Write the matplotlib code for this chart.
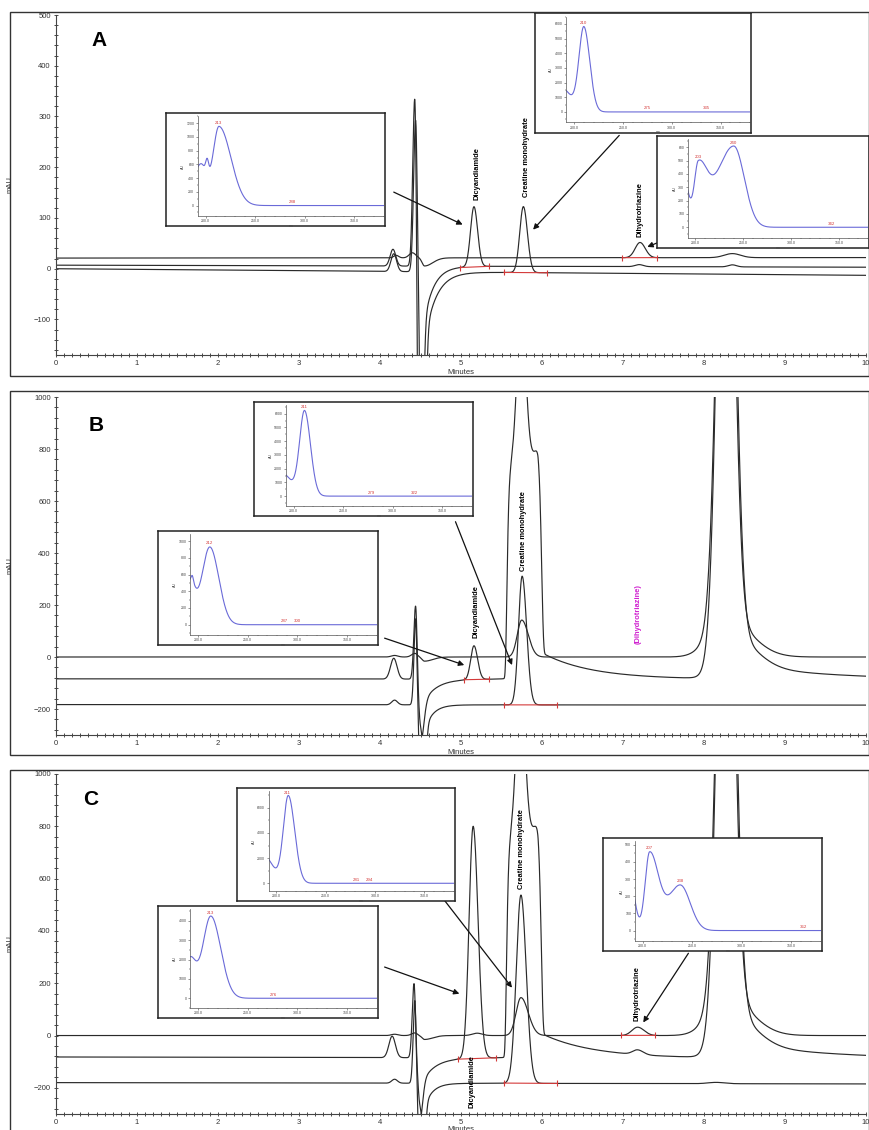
import numpy as np
import matplotlib.pyplot as plt
from matplotlib.patches import Rectangle
from matplotlib.ticker import MultipleLocator

plt.rcParams['font.family'] = ['Liberation Sans', 'DejaVu Sans']

W, H = 870, 1130

# ======================================================================
# Chromatogram data
# peak rows: (retention time min, height mAU, sigma left, sigma right, shape exponent)
# baseline: (value at 0 min, value at 10 min)
# ======================================================================
# Panel A
A_top_base = (21, 22)
A_top_peaks = [(4.20, 5, 0.03, 0.03, 2), (4.40, 10, 0.04, 0.04, 2), (4.55, -16, 0.03, 0.10, 2),
               (7.21, 30, 0.06, 0.065, 2), (8.35, 8, 0.10, 0.10, 2)]
A_mid_base = (7, 3)
A_mid_peaks = [(4.16, 33, 0.035, 0.035, 2), (4.43, 340, 0.025, 0.018, 2), (4.49, -700, 0.02, 0.03, 2),
               (4.50, -160, 0.01, 0.06, 1), (5.16, 118, 0.042, 0.045, 2), (7.20, 4, 0.05, 0.05, 2),
               (8.35, 4, 0.05, 0.05, 2)]
A_low_base = (0, -13)
A_low_peaks = [(4.17, 35, 0.035, 0.035, 2), (4.44, 300, 0.025, 0.018, 2), (4.52, -700, 0.02, 0.03, 2),
               (4.53, -160, 0.01, 0.07, 1), (5.77, 130, 0.045, 0.05, 2)]

# Panel B
B_top_base = (0, 0)
B_top_peaks = [(4.18, 6, 0.04, 0.04, 2), (4.43, 14, 0.04, 0.03, 2), (4.55, -16, 0.03, 0.10, 2),
               (5.75, 142, 0.055, 0.08, 2), (8.27, 2400, 0.10, 0.095, 2), (8.27, 150, 0.20, 0.30, 2)]
B_mid_base = (-84, -86)
B_mid_peaks = [(4.17, 80, 0.04, 0.04, 2), (4.44, 290, 0.022, 0.018, 2), (4.50, -145, 0.025, 0.04, 2),
               (4.52, -100, 0.01, 0.08, 1), (5.16, 130, 0.04, 0.045, 2), (5.755, 800, 0.18, 0.23, 12),
               (5.745, 600, 0.055, 0.055, 2), (5.95, 110, 0.05, 0.30, 1), (8.275, 2600, 0.10, 0.10, 2),
               (8.30, 120, 0.15, 0.30, 2), (8.40, 60, 0.05, 0.50, 1)]
B_low_base = (-183, -185)
B_low_peaks = [(4.18, 18, 0.035, 0.035, 2), (4.44, 335, 0.02, 0.016, 2), (4.52, -600, 0.025, 0.03, 2),
               (4.54, -110, 0.01, 0.05, 1), (5.755, 495, 0.045, 0.055, 2)]

# Panel C
C_top_base = (0, 0)
C_top_peaks = [(4.18, 5, 0.04, 0.04, 2), (4.43, 10, 0.04, 0.03, 2), (4.55, -15, 0.03, 0.10, 2),
               (5.20, 9, 0.06, 0.06, 2), (5.74, 145, 0.06, 0.09, 2), (7.18, 32, 0.07, 0.08, 2),
               (8.27, 2400, 0.10, 0.095, 2), (8.27, 150, 0.20, 0.30, 2)]
C_mid_base = (-82, -88)
C_mid_peaks = [(4.15, 82, 0.04, 0.04, 2), (4.42, 285, 0.022, 0.018, 2), (4.49, -140, 0.022, 0.035, 2),
               (4.51, -100, 0.01, 0.08, 1), (5.15, 887, 0.05, 0.06, 2), (5.75, 820, 0.18, 0.23, 12),
               (5.735, 600, 0.055, 0.055, 2), (5.95, 100, 0.05, 0.31, 1), (7.18, 18, 0.06, 0.07, 2),
               (8.275, 2600, 0.10, 0.10, 2), (8.30, 120, 0.15, 0.30, 2), (8.40, 60, 0.05, 0.50, 1)]
C_low_base = (-180, -185)
C_low_peaks = [(4.18, 15, 0.035, 0.035, 2), (4.43, 320, 0.02, 0.016, 2), (4.51, -600, 0.025, 0.03, 2),
               (4.53, -110, 0.01, 0.05, 1), (5.74, 720, 0.058, 0.065, 2), (8.15, 5, 0.10, 0.10, 2)]

# peak names (text, time, mAU, colour)
A_labels = [('Dicyandiamide', 5.20, 187, 'k'), ('Creatine monohydrate', 5.81, 221, 'k'),
            ('Dihydrotriazine', 7.21, 116, 'k')]
B_labels = [('Dicyandiamide', 5.18, 175, 'k'), ('Creatine monohydrate', 5.77, 485, 'k'),
            ('(Dihydrotriazine)', 7.19, 165, '#d020d0')]
C_labels = [('Creatine monohydrate', 5.75, 713, 'k'), ('Dihydrotriazine', 7.17, 160, 'k'),
            ('Dicyandiamide', 5.14, -175, 'k')]

# integration events (trace index, start, end)
A_integ = [(1, 4.99, 5.35), (2, 5.53, 6.06), (0, 6.99, 7.42)]
B_integ = [(1, 5.04, 5.35), (2, 5.53, 6.18)]
C_integ = [(1, 4.96, 5.43), (2, 5.53, 6.18), (0, 6.98, 7.40)]

# ======================================================================
# UV spectra in the insets: (nm, height, sigma left, sigma right, exponent)
# ======================================================================
A_dicy_bands = [(195, 600, 8, 6, 2), (201.5, 200, 1.5, 1.5, 2), (213.5, 1150, 6, 12, 2)]
A_crea_bands = [(186, 1700, 10.5, 10.5, 2), (210, 5700, 5, 6, 2)]
A_dihy_bands = [(186, 420, 6, 6, 2), (203, 420, 4, 9, 2), (240, 610, 18, 11, 2)]
B_crea_bands = [(186, 1800, 11, 11, 2), (211, 6100, 5, 6, 2)]
B_dicy_bands = [(192, 500, 6, 5, 2), (194.5, 60, 1, 1, 2), (212, 930, 8, 9, 2)]
C_crea_bands = [(186, 2300, 10, 10, 2), (212, 6900, 5, 6.5, 2)]
C_dicy_bands = [(192, 2000, 6, 6, 2), (213, 4250, 8, 10, 2)]
C_dihy_bands = [(187, 300, 5, 5, 2), (207, 450, 4.5, 9, 2), (238, 265, 12, 10, 2)]

A_dicy_marks = [(213, '213'), (288, '288')]
A_crea_marks = [(210, '210'), (275, '275'), (335, '335')]
A_dihy_marks = [(203, '203'), (240, '240'), (342, '342')]
B_crea_marks = [(211, '211'), (279, '279'), (322, '322')]
B_dicy_marks = [(212, '212'), (287, '287'), (300, '300')]
C_crea_marks = [(211, '211'), (281, '281'), (294, '294')]
C_dicy_marks = [(213, '213'), (276, '276')]
C_dihy_marks = [(207, '207'), (238, '238'), (362, '362')]

TRACE = '#2a2a2a'
RED = '#d43a3a'
BLUE = '#6a6ad8'

t = np.linspace(0, 10, 6001)
nm = np.linspace(192, 380, 800)


def band_sum(x, peaks):
    y = np.zeros_like(x)
    for c, h, wl, wr, p in peaks:
        w = np.where(x < c, wl, wr)
        y += h * np.exp(-0.5 * np.abs((x - c) / w) ** p)
    return y


def px_rect(x0, y0, x1, y1):
    return [x0 / W, 1 - y1 / H, (x1 - x0) / W, (y1 - y0) / H]


fig = plt.figure(figsize=(W / 100, H / 100), dpi=100)


def add_inset(ax, rect, bands, ylim, ystep, ytop, marks, tail, head):
    frame = fig.add_axes(px_rect(*rect))
    frame.set_xticks([])
    frame.set_yticks([])
    frame.set_facecolor('white')
    for s in frame.spines.values():
        s.set_linewidth(1.1)
        s.set_color('#222222')
    inner = frame.inset_axes([0.145, 0.09, 0.85, 0.88])
    spec = band_sum(nm, bands)
    inner.plot(nm, spec, color=BLUE, lw=0.8)
    inner.set_xlim(192, 380)
    inner.set_ylim(*ylim)
    inner.set_xticks([200, 250, 300, 350])
    inner.set_xticklabels(['200.0', '250.0', '300.0', '350.0'])
    inner.xaxis.set_minor_locator(MultipleLocator(10))
    inner.set_yticks(np.arange(0, ytop + 1, ystep))
    inner.yaxis.set_minor_locator(MultipleLocator(ystep / 2))
    inner.tick_params(labelsize=2.5, length=1.5, width=0.4, pad=1, colors='#444444')
    inner.tick_params(which='minor', length=1, width=0.3)
    inner.spines['top'].set_visible(False)
    inner.spines['right'].set_visible(False)
    for s in ('left', 'bottom'):
        inner.spines[s].set_linewidth(0.5)
        inner.spines[s].set_color('#555555')
    inner.set_xlabel('nm', fontsize=2.5, labelpad=0.5, color='#444444')
    inner.set_ylabel('AU', fontsize=2.5, labelpad=1, color='#444444')
    span = ylim[1] - ylim[0]
    for w, s in marks:
        v = np.interp(w, nm, spec)
        inner.text(w, v + 0.015 * span, s, fontsize=3.2, color=RED, ha='center', va='bottom')
    ax.annotate('', xy=head, xycoords='data', xytext=tail, textcoords=frame.transAxes,
                arrowprops=dict(arrowstyle='-|>', color='#111111', lw=0.9, mutation_scale=8,
                                shrinkA=0, shrinkB=0), annotation_clip=False)


def draw_panel(ax_rect, frame_rect, letter, letter_pos, ylim, ymajor, yminor,
               traces, integ, labels, insets, xlabel_pad):
    fig.add_artist(Rectangle((frame_rect[0] / W, 1 - frame_rect[3] / H),
                             (frame_rect[2] - frame_rect[0]) / W, (frame_rect[3] - frame_rect[1]) / H,
                             transform=fig.transFigure, fill=False, lw=1.0, ec='#333333'))
    ax = fig.add_axes(px_rect(*ax_rect))
    ys = []
    for base, peaks in traces:
        y = base[0] + (base[1] - base[0]) * t / 10 + band_sum(t, peaks)
        ax.plot(t, y, color=TRACE, lw=0.85)
        ys.append(y)
    for i, t0, t1 in integ:
        y0 = np.interp(t0, t, ys[i])
        y1 = np.interp(t1, t, ys[i])
        ax.plot([t0, t1], [y0, y1], color=RED, lw=0.8)
        ax.plot([t0, t1], [y0, y1], ls='none', marker='|', ms=5, mew=0.8, color=RED)
    for s, x, y, c in labels:
        ax.text(x, y, s, rotation=90, ha='center', va='center', fontsize=5.4,
                fontweight='bold', family='Liberation Sans', color=c)
    ax.text(letter_pos[0], letter_pos[1], letter, transform=ax.transAxes, fontsize=15,
            fontweight='bold', family='Liberation Sans', ha='left', va='center')
    ax.set_xlim(0, 10)
    ax.set_ylim(*ylim)
    ax.xaxis.set_major_locator(MultipleLocator(1))
    ax.xaxis.set_minor_locator(MultipleLocator(0.1))
    ax.yaxis.set_major_locator(MultipleLocator(ymajor))
    ax.yaxis.set_minor_locator(MultipleLocator(yminor))
    ax.tick_params(labelsize=5.5, length=3.5, width=0.6, pad=2, colors='#333333', direction='inout')
    ax.tick_params(which='minor', length=2.5, width=0.5, direction='inout')
    ax.spines['top'].set_visible(False)
    ax.spines['right'].set_visible(False)
    for s in ('left', 'bottom'):
        ax.spines[s].set_color('#444444')
        ax.spines[s].set_linewidth(0.8)
    ax.set_xlabel('Minutes', fontsize=5.5, labelpad=xlabel_pad, color='#333333')
    ax.set_ylabel('mAU', fontsize=5.5, color='#333333')
    ax.yaxis.set_label_coords(-0.053, 0.5)
    ax.patch.set_alpha(0)
    for rect, bands, yl, ystep, ytop, marks, tail, head in insets:
        add_inset(ax, rect, bands, yl, ystep, ytop, marks, tail, head)
    return ax


# ======================================================================
# Panel A
# ======================================================================
draw_panel((56, 15, 866, 355), (10, 12, 869, 376), 'A', (0.044, 0.926), (-170, 500), 100, 20,
           [(A_top_base, A_top_peaks), (A_mid_base, A_mid_peaks), (A_low_base, A_low_peaks)],
           A_integ, A_labels,
           [((166, 113, 385, 226), A_dicy_bands, (-150, 1300), 200, 1200, A_dicy_marks, (1.04, 0.30), (5.02, 87)),
            ((535, 13, 751, 133), A_crea_bands, (-700, 6500), 1000, 6000, A_crea_marks, (0.39, -0.02), (5.89, 77)),
            ((657, 136, 869, 248), A_dihy_bands, (-80, 660), 100, 600, A_dihy_marks, (0.0, 0.045), (7.30, 43))],
           1)

# ======================================================================
# Panel B
# ======================================================================
draw_panel((56, 397, 866, 735), (10, 391, 869, 755), 'B', (0.040, 0.917), (-300, 1000), 200, 40,
           [(B_top_base, B_top_peaks), (B_mid_base, B_mid_peaks), (B_low_base, B_low_peaks)],
           B_integ, B_labels,
           [((254, 402, 473, 516), B_crea_bands, (-700, 6600), 1000, 6000, B_crea_marks, (0.92, -0.05), (5.63, -31)),
            ((158, 531, 378, 645), B_dicy_bands, (-120, 1080), 200, 1000, B_dicy_marks, (1.03, 0.06), (5.04, -31))],
           1)

# ======================================================================
# Panel C
# ======================================================================
draw_panel((56, 774, 866, 1114), (10, 770, 869, 1140), 'C', (0.033, 0.924), (-300, 1000), 200, 40,
           [(C_top_base, C_top_peaks), (C_mid_base, C_mid_peaks), (C_low_base, C_low_peaks)],
           C_integ, C_labels,
           [((237, 788, 455, 901), C_crea_bands, (-600, 7300), 2000, 6000, C_crea_marks, (0.95, 0.01), (5.63, 183)),
            ((158, 906, 378, 1018), C_dicy_bands, (-500, 4600), 1000, 4000, C_dicy_marks, (1.03, 0.455), (4.98, 160)),
            ((603, 838, 822, 951), C_dihy_bands, (-60, 520), 100, 500, C_dihy_marks, (0.39, -0.02), (7.25, 50))],
           -0.5)

fig.savefig('out.png', dpi=100)
